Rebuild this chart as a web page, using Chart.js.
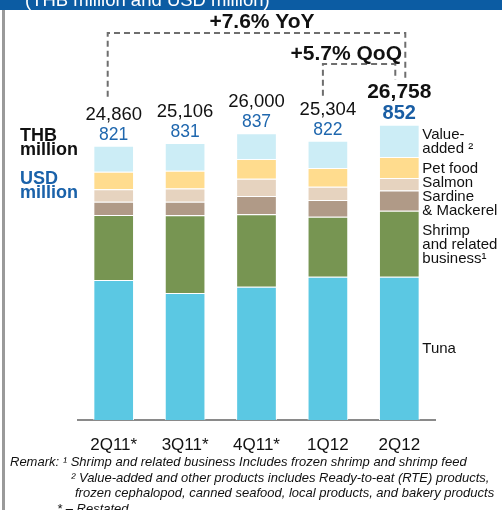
<!DOCTYPE html>
<html>
<head>
<meta charset="utf-8">
<script src="https://cdn.jsdelivr.net/npm/chart.js@4/dist/chart.umd.min.js"></script>
<style>
  html, body { margin: 0; padding: 0; background: #fff; }
  canvas { display: block; }
</style>
</head>
<body>
<canvas id="c" width="502" height="510"></canvas>
<script>
// ---- data ----
const categories = ['2Q11*', '3Q11*', '4Q11*', '1Q12', '2Q12'];
const tuna       = [12679, 11515, 12086, 12987, 12989];
const shrimp     = [5896, 7040, 6567, 5442, 5968];
const sardine    = [1206, 1232, 1660, 1506, 1841];
const salmon     = [1134, 1196, 1542, 1215, 1134];
const petFood    = [1578, 1604, 1796, 1687, 1896];
const valueAdded = [2367, 2519, 2349, 2467, 2930];
const thbTotals  = [24860, 25106, 26000, 25304, 26758];
const usdTotals  = [821, 831, 837, 822, 852];
const seriesNames = ['Tuna', 'Shrimp and related business', 'Sardine & Mackerel', 'Salmon', 'Pet food', 'Value-added'];
const legendLines = [['Tuna'], ['Shrimp', 'and related', 'business\u00B9'], ['Sardine', '& Mackerel'], ['Salmon'], ['Pet food'], ['Value-', 'added \u00B2']];
const yoyText = '+7.6% YoY';
const qoqText = '+5.7% QoQ';
const headerText = '(THB million and USD million)';
const remarks = [
  'Remark: \u00B9 Shrimp and related business Includes frozen shrimp and shrimp feed',
  '\u00B2 Value-added and other products includes Ready-to-eat (RTE) products,',
  'frozen cephalopod, canned seafood, local products, and bakery products',
  '* \u2013 Restated'
];

const colors = ['#5BC8E3', '#779552', '#B09A87', '#E6D3BF', '#FFDC8E', '#CCEDF6'];
const seriesData = [tuna, shrimp, sardine, salmon, petFood, valueAdded];
const FONT = '"Liberation Sans", Arial, Helvetica, sans-serif';

const overlay = {
  id: 'overlay',
  beforeDraw(chart) {
    const c = chart.ctx;
    c.save();
    c.fillStyle = '#fff';
    c.fillRect(0, 0, chart.width, chart.height);
    c.fillStyle = '#0C5CA3';
    c.fillRect(0, 0, chart.width, 10);
    c.fillStyle = '#fff';
    c.font = '18.5px ' + FONT;
    c.textBaseline = 'alphabetic';
    c.textAlign = 'left';
    c.fillText(headerText, 25, 6);
    c.fillStyle = '#9a9a9a';
    c.fillRect(2, 10, 3, chart.height - 10);
    c.restore();
  },
  afterDraw(chart) {
    const c = chart.ctx;
    const xs = chart.scales.x, ys = chart.scales.y;
    const n = categories.length;
    c.save();
    // totals
    const capTop = [];
    for (let i = 0; i < n; i++) {
      const x = xs.getPixelForValue(i);
      const top = ys.getPixelForValue(thbTotals[i]);
      const last = i === n - 1;
      const usdBase = top - 6;
      const thbBase = usdBase - (last ? 21 : 20);
      c.textAlign = 'center';
      c.textBaseline = 'alphabetic';
      c.fillStyle = last ? '#1A5EA4' : '#1F67AE';
      c.font = (last ? 'bold 20px ' : '17.5px ') + FONT;
      c.fillText(String(usdTotals[i]), x, usdBase);
      c.fillStyle = '#111';
      c.font = (last ? 'bold 21px ' : '18.5px ') + FONT;
      c.fillText(thbTotals[i].toLocaleString('en-US'), x, thbBase);
      capTop.push(thbBase - 14);
    }
    // dashed connectors
    c.strokeStyle = '#6e6e6e';
    c.lineWidth = 2;
    c.setLineDash([6, 4]);
    const x0 = xs.getPixelForValue(0), x3 = xs.getPixelForValue(3), x4 = xs.getPixelForValue(4);
    c.beginPath();
    c.moveTo(x0 - 6, capTop[0] - 9);
    c.lineTo(x0 - 6, 33);
    c.lineTo(x4 + 6, 33);
    c.lineTo(x4 + 6, 78);
    c.stroke();
    c.beginPath();
    c.moveTo(x3 - 5, capTop[3] - 5);
    c.lineTo(x3 - 5, 64);
    c.lineTo(x4 - 4, 64);
    c.lineTo(x4 - 4, 80);
    c.stroke();
    c.setLineDash([]);
    c.fillStyle = '#111';
    c.font = 'bold 21px ' + FONT;
    c.textAlign = 'center';
    c.fillText(yoyText, 262, 28);
    c.textAlign = 'right';
    c.fillText(qoqText, 402, 60);
    // left unit labels
    c.textAlign = 'left';
    c.font = 'bold 18px ' + FONT;
    c.fillStyle = '#111';
    c.fillText('THB', 20, 141);
    c.fillText('million', 20, 155);
    c.fillStyle = '#1A62AA';
    c.fillText('USD', 20, 184);
    c.fillText('million', 20, 198);
    // legend next to last bar (centered on segments, overlaps pushed apart)
    c.fillStyle = '#111';
    c.font = '15px ' + FONT;
    c.textBaseline = 'middle';
    const last = n - 1;
    const lh = 14;
    let cum = 0;
    const blocks = [];
    for (let s = 0; s < seriesData.length; s++) {
      const v = seriesData[s][last];
      const mid = ys.getPixelForValue(cum + v / 2) + 1;
      cum += v;
      blocks.push({ lines: legendLines[s], c: mid, h: (legendLines[s].length - 1) * lh });
    }
    blocks.sort((a, b) => a.c - b.c);
    for (let it = 0; it < 20; it++) {
      for (let k = 0; k + 1 < blocks.length; k++) {
        const a = blocks[k], b = blocks[k + 1];
        const need = (a.c + a.h / 2 + lh) - (b.c - b.h / 2);
        if (need > 0) { a.c -= need / 2; b.c += need / 2; }
      }
    }
    const lx = x4 + 23;
    for (const b of blocks) {
      for (let k = 0; k < b.lines.length; k++) {
        c.fillText(b.lines[k], lx, b.c - b.h / 2 + k * lh);
      }
    }
    // remarks
    c.textBaseline = 'alphabetic';
    c.font = 'italic 13px ' + FONT;
    c.fillStyle = '#111';
    c.fillText(remarks[0], 10, 466);
    c.fillText(remarks[1], 71, 481.5);
    c.fillText(remarks[2], 75, 497);
    c.fillText(remarks[3], 57, 513);
    c.restore();
  }
};

new Chart(document.getElementById('c'), {
  type: 'bar',
  data: {
    labels: categories,
    datasets: seriesData.map((d, i) => ({
      label: seriesNames[i],
      data: d,
      backgroundColor: colors[i],
      borderColor: '#ffffff',
      borderWidth: 1,
      barPercentage: 0.57,
      categoryPercentage: 1.0
    }))
  },
  options: {
    responsive: false,
    devicePixelRatio: 1,
    animation: false,
    layout: { padding: { left: 78, right: 67, top: 89, bottom: 0 } },
    plugins: { legend: { display: false }, tooltip: { enabled: false } },
    scales: {
      x: {
        stacked: true,
        grid: { display: false, drawTicks: false },
        border: { display: true, color: '#8a8a8a', width: 2 },
        ticks: { color: '#111', font: { family: FONT, size: 17 }, padding: 15, maxRotation: 0 },
        afterFit: (scale) => { scale.height = 90; }
      },
      y: {
        stacked: true,
        display: false,
        min: 0,
        max: 30000
      }
    }
  },
  plugins: [overlay]
});
</script>
</body>
</html>
